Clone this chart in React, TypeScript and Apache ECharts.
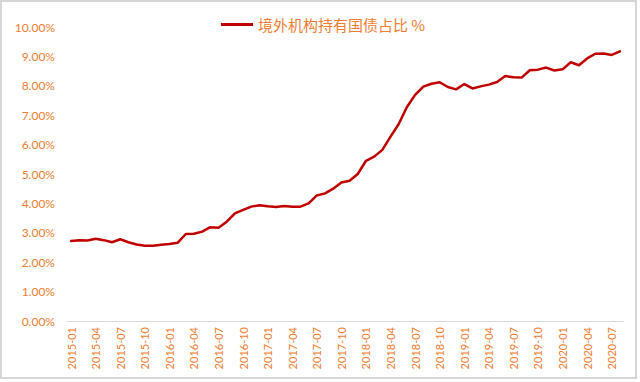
import React, { useEffect, useRef } from "react";
import * as echarts from "echarts";

const months: string[] = [];
for (let y = 2015; y <= 2020; y++) {
  for (let m = 1; m <= 12; m++) {
    if (y === 2020 && m > 8) break;
    months.push(`${y}-${m < 10 ? "0" + m : m}`);
  }
}

const seriesName = "境外机构持有国债占比 %";

const shareValues: number[] = [
  2.72, 2.75, 2.74, 2.8, 2.75, 2.68, 2.78, 2.68, 2.6, 2.56, 2.56, 2.59,
  2.62, 2.66, 2.96, 2.97, 3.04, 3.19, 3.17, 3.38, 3.66, 3.78, 3.89, 3.94,
  3.9, 3.88, 3.91, 3.89, 3.89, 4.0, 4.27, 4.34, 4.5, 4.71, 4.77, 5.0,
  5.45, 5.59, 5.82, 6.27, 6.7, 7.28, 7.69, 7.97, 8.07, 8.12, 7.96, 7.88,
  8.06, 7.91, 7.98, 8.04, 8.13, 8.33, 8.29, 8.28, 8.53, 8.55, 8.62, 8.52,
  8.56, 8.8, 8.7, 8.93, 9.09, 9.1, 9.05, 9.17,
];

const ORANGE = "#ED7D31";
const RED = "#C00000";

export default function App() {
  const ref = useRef<HTMLDivElement>(null);
  useEffect(() => {
    if (!ref.current) return;
    const chart = echarts.init(ref.current, null, { renderer: "svg" });
    chart.setOption({
      animation: false,
      backgroundColor: "#ffffff",
      legend: {
        left: 216,
        top: 12,
        icon: "rect",
        itemWidth: 32,
        itemHeight: 3,
        textStyle: {
          color: ORANGE,
          fontSize: 15,
          fontFamily: "'Noto Sans CJK SC', Lato, sans-serif",
        },
        data: [seriesName],
      },
      grid: { left: 67, right: 16, top: 27, bottom: 61 },
      xAxis: {
        type: "category",
        data: months,
        boundaryGap: true,
        axisLine: { lineStyle: { color: "#D9D9D9", width: 1 } },
        axisTick: {
          interval: 2,
          length: 4,
          lineStyle: { color: "#D9D9D9" },
        },
        axisLabel: {
          interval: 2,
          rotate: 90,
          margin: 6,
          color: ORANGE,
          fontSize: 11,
          fontFamily: "Lato, sans-serif",
        },
      },
      yAxis: {
        type: "value",
        min: 0,
        max: 10,
        interval: 1,
        axisLine: { show: false },
        axisTick: { show: false },
        splitLine: { show: false },
        axisLabel: {
          margin: 12,
          color: ORANGE,
          fontSize: 12,
          fontFamily: "Lato, sans-serif",
          formatter: (v: number) => v.toFixed(2) + "%",
        },
      },
      series: [
        {
          name: seriesName,
          type: "line",
          data: shareValues,
          symbol: "none",
          lineStyle: { color: RED, width: 2.5, cap: "round", join: "round" },
          itemStyle: { color: RED },
        },
      ],
    });
    return () => chart.dispose();
  }, []);

  return (
    <div style={{ position: "fixed", left: 0, top: 0, width: 640, height: 382, background: "#fff" }}>
      <div ref={ref} style={{ position: "absolute", left: 0, top: 0, width: 640, height: 382 }} />
      <div
        style={{
          position: "absolute",
          left: 0,
          top: 0,
          width: 637,
          height: 379,
          boxSizing: "border-box",
          border: "2px solid #D6D6D6",
          pointerEvents: "none",
        }}
      />
    </div>
  );
}
